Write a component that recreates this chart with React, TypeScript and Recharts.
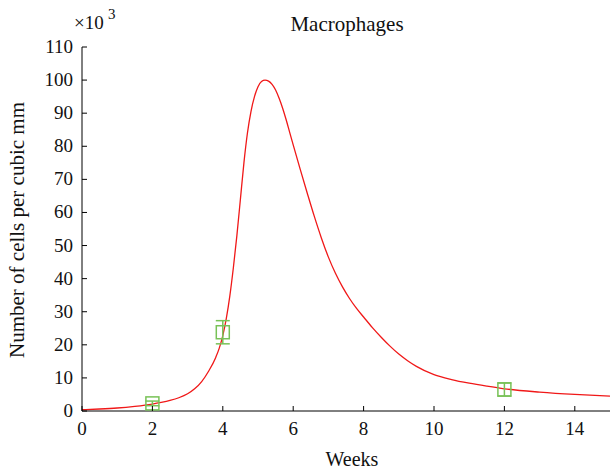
import React from 'react';
import { ComposedChart, Line, Scatter, ErrorBar, XAxis, YAxis } from 'recharts';

// model curve (x 10^3 cells per cubic mm)
const weeks = [
  0, 0.5, 1, 1.5, 2, 2.25, 2.5, 2.75, 3, 3.2, 3.4, 3.6, 3.8, 3.9, 4, 4.1, 4.2, 4.3, 4.4, 4.5,
  4.6, 4.7, 4.8, 4.9, 5, 5.1, 5.2, 5.3, 5.4, 5.5, 5.6, 5.7, 5.8, 5.9, 6, 6.2, 6.4, 6.6, 6.8,
  7, 7.2, 7.4, 7.6, 7.8, 8, 8.25, 8.5, 8.75, 9, 9.25, 9.5, 10, 10.5, 11, 11.5, 12, 13, 14, 15,
];
const macrophages = [
  0.4, 0.6, 0.9, 1.4, 2.1, 2.6, 3.2, 4.0, 5.2, 6.7, 8.9, 12.1, 16.2, 19.0, 22.8, 28.0, 34.8, 43.3, 53, 64,
  75, 84, 90.5, 95, 98, 99.6, 100, 99.7, 98.7, 97, 94.5, 91.5, 88, 84.2, 80.4, 73, 65.8, 58.8, 52.3,
  46.5, 41.6, 37.5, 34.0, 31.0, 28.4, 25.2, 22.3, 19.6, 17.2, 15.2, 13.5, 11, 9.5, 8.4, 7.5, 6.7, 5.7, 5.0, 4.5,
];

// measured points with error bars
const obsWeeks = [2, 4, 12];
const obsValues = [2.3, 23.8, 6.5];
const obsErrors = [0.7, 3.5, 2];

const xTicks = [0, 2, 4, 6, 8, 10, 12, 14];
const yTicks = [0, 10, 20, 30, 40, 50, 60, 70, 80, 90, 100, 110];

const curveData = weeks.map((w, i) => ({ week: w, value: macrophages[i] }));
const obsData = obsWeeks.map((w, i) => ({ week: w, value: obsValues[i], err: obsErrors[i] }));

const FONT = "'Liberation Serif', 'Times New Roman', serif";
const txt = { fontFamily: FONT };
const GREEN = '#78c257';
const TICK_LEN = 5;

const BottomTick = (props: any) => {
  const { x, y, payload } = props;
  return (
    <g>
      <line x1={x} x2={x} y1={y} y2={y - TICK_LEN} stroke="#000" />
      <text x={x} y={y + 24} textAnchor="middle" style={txt} fontSize={19} fill="#111">
        {payload.value}
      </text>
    </g>
  );
};

const TopTick = (props: any) => {
  const { x, y } = props;
  return <line x1={x} x2={x} y1={y} y2={y + TICK_LEN} stroke="#000" />;
};

const LeftTick = (props: any) => {
  const { x, y, payload } = props;
  return (
    <g>
      <line x1={x} x2={x + TICK_LEN} y1={y} y2={y} stroke="#000" />
      <text x={x - 9} y={y + 6} textAnchor="end" style={txt} fontSize={19} fill="#111">
        {payload.value}
      </text>
    </g>
  );
};

const RightTick = (props: any) => {
  const { x, y } = props;
  return <line x1={x} x2={x - TICK_LEN} y1={y} y2={y} stroke="#000" />;
};

const SquareMarker = (props: any) => {
  const { cx, cy } = props;
  return <rect x={cx - 6.5} y={cy - 6.5} width={13} height={13} fill="none" stroke={GREEN} strokeWidth={1.5} />;
};

export default function App() {
  return (
    <div style={{ position: 'absolute', left: 0, top: 0, width: 611, height: 476, background: '#fff' }}>
      <ComposedChart width={611} height={476} margin={{ top: 47, right: 1, bottom: 0, left: 0 }}>
        <XAxis
          xAxisId="bottom"
          dataKey="week"
          type="number"
          domain={[0, 15]}
          ticks={xTicks}
          height={65}
          tickSize={0}
          tickMargin={0}
          tickLine={false}
          tick={<BottomTick />}
          axisLine={{ stroke: '#000' }}
          allowDataOverflow
        />
        <XAxis
          xAxisId="top"
          orientation="top"
          type="number"
          domain={[0, 15]}
          ticks={xTicks}
          height={0}
          tickSize={0}
          tickMargin={0}
          tickLine={false}
          tick={<TopTick />}
          axisLine={{ stroke: '#000' }}
          allowDataOverflow
        />
        <YAxis
          yAxisId="left"
          type="number"
          domain={[0, 110]}
          ticks={yTicks}
          width={82}
          tickSize={0}
          tickMargin={0}
          tickLine={false}
          tick={<LeftTick />}
          axisLine={{ stroke: '#000' }}
          allowDataOverflow
        />
        <YAxis
          yAxisId="right"
          orientation="right"
          type="number"
          domain={[0, 110]}
          ticks={yTicks}
          width={0}
          tickSize={0}
          tickMargin={0}
          tickLine={false}
          tick={<RightTick />}
          axisLine={{ stroke: '#000' }}
          allowDataOverflow
        />
        <Line
          xAxisId="bottom"
          yAxisId="left"
          data={curveData}
          dataKey="value"
          type="monotone"
          stroke="#f01818"
          strokeWidth={1.3}
          dot={false}
          isAnimationActive={false}
        />
        <Scatter
          xAxisId="bottom"
          yAxisId="left"
          data={obsData}
          dataKey="value"
          shape={<SquareMarker />}
          isAnimationActive={false}
        >
          <ErrorBar dataKey="err" direction="y" width={7} stroke={GREEN} strokeWidth={1.5} isAnimationActive={false} />
        </Scatter>
      </ComposedChart>
      <svg
        width={611}
        height={476}
        style={{ position: 'absolute', left: 0, top: 0, pointerEvents: 'none', fontFamily: FONT }}
        fill="#111"
      >
        <text x={74} y={29} fontSize={19}>×10</text>
        <text x={108} y={19} fontSize={15}>3</text>
        <text x={347} y={31} textAnchor="middle" fontSize={21}>Macrophages</text>
        <text x={352} y={466} textAnchor="middle" fontSize={20}>Weeks</text>
        <text x={24} y={230} textAnchor="middle" fontSize={21} transform="rotate(-90 24 230)">
          Number of cells per cubic mm
        </text>
      </svg>
    </div>
  );
}
